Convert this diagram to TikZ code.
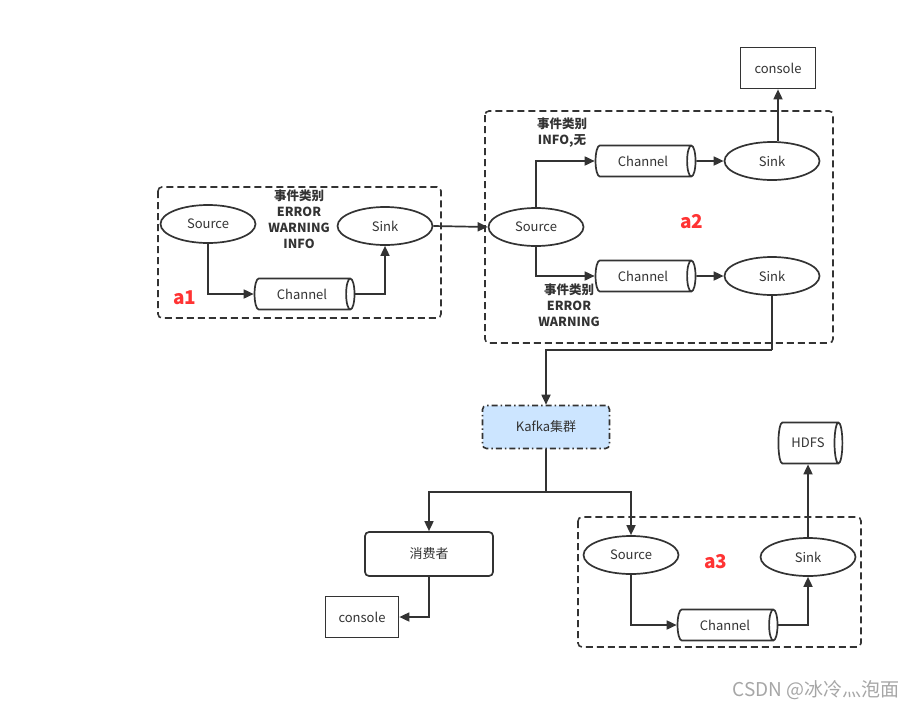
\documentclass[tikz,border=0pt]{standalone}
\usepackage{fontspec}
\setmainfont{Noto Sans CJK SC}
\usepackage{tikz}
\usetikzlibrary{arrows.meta,shapes.geometric,positioning}
\definecolor{ink}{HTML}{333333}
\definecolor{kafkablue}{HTML}{CCE5FF}
\definecolor{tagred}{HTML}{FF3333}

\begin{document}
\begin{tikzpicture}[x=1pt, y=-1pt,
  every node/.style={text=ink, font=\fontsize{13}{15}\selectfont},
  agent/.style={draw=ink, line width=1.6pt, dash pattern=on 7pt off 4pt,
    rounded corners=4pt},
  oval/.style={ellipse, draw=ink, line width=1.7pt, fill=white,
    minimum width=95pt, minimum height=38pt, inner sep=0pt},
  pipe/.style={cylinder, draw=ink, line width=1.7pt, fill=white,
    shape aspect=0.8, minimum width=31pt, minimum height=100pt, inner sep=0pt},
  plain/.style={rectangle, draw=ink, line width=1.7pt, fill=white,
    minimum width=75pt, minimum height=41pt},
  tag/.style={text=tagred, font=\bfseries\fontsize{19}{22}\selectfont},
  note/.style={align=center, font=\bfseries\fontsize{12.5}{16}\selectfont},
  arr/.style={-{Triangle[length=10pt,width=9pt]}, draw=ink, line width=1.7pt},
  wire/.style={draw=ink, line width=1.7pt}
]
\useasboundingbox (0,0) rectangle (922,710);

% agent a1
\draw[agent] (158,187) rectangle (441,318);
\node[oval] (src1) at (208,224) {Source};
\node[oval] (sink1) at (385,226) {Sink};
\node[pipe] (ch1) at (302,294) {Channel};
\node[note] (n1) at (299,219) {事件类别\\ERROR\\WARNING\\INFO};
\node[tag] (a1) at (185,298) {a1};
\draw[arr] (src1.south) |- (ch1.west);
\draw[arr] (ch1.east) -| (sink1.south);

% agent a2
\draw[agent] (485,111) rectangle (833,343);
\node[oval] (src2) at (536,227) {Source};
\node[pipe] (ch2a) at (643,161) {Channel};
\node[pipe] (ch2b) at (643,276) {Channel};
\node[oval] (sink2a) at (772,161) {Sink};
\node[oval] (sink2b) at (772,276) {Sink};
\node[note] (n2a) at (562,133) {事件类别\\INFO,无};
\node[note] (n2b) at (569,305) {事件类别\\ERROR\\WARNING};
\node[tag] (a2) at (692,222) {a2};
\node[plain] (con1) at (778,68) {console};
\draw[arr] (sink1.east) -- (src2.west);
\draw[arr] (src2.north) |- (ch2a.west);
\draw[arr] (src2.south) |- (ch2b.west);
\draw[arr] (ch2a.east) -- (sink2a.west);
\draw[arr] (ch2b.east) -- (sink2b.west);
\draw[arr] (con1.south |- sink2a.north) -- (con1.south);

% kafka
\node[rectangle, draw=ink, fill=kafkablue, line width=1.6pt, rounded corners=4pt,
  dash pattern=on 6pt off 3pt on 1.5pt off 3pt,
  minimum width=127pt, minimum height=43pt] (kafka) at (546,427) {Kafka集群};
\coordinate (j1) at (772,350);
\coordinate (j2) at (546,492);
\draw[wire] (sink2b.south) -- (j1);
\draw[arr] (j1) -| (kafka.north);
\draw[wire] (kafka.south) -- (j2);

% consumer
\node[plain, rounded corners=4pt, minimum width=128pt, minimum height=44pt]
  (cons) at (429,554) {消费者};
\node[plain, minimum width=73pt] (con2) at (362,617) {console};
\draw[arr] (j2) -| (cons.north);
\draw[arr] (cons.south) |- (con2.east);

% agent a3
\draw[agent] (578,517) rectangle (861,647);
\node[oval] (src3) at (631,555) {Source};
\node[oval] (sink3) at (808,557) {Sink};
\node[pipe] (ch3) at (725,625) {Channel};
\node[tag] (a3) at (716,562) {a3};
\node[pipe, minimum height=64pt, minimum width=41pt] (hdfs) at (808,443) {HDFS};
\draw[arr] (j2) -| (src3.north);
\draw[arr] (src3.south) |- (ch3.west);
\draw[arr] (ch3.east) -| (sink3.south);
\draw[arr] (sink3.north) -- (hdfs.south);

\node[text=gray!70, font=\fontsize{19}{22}\selectfont] (wm) at (816,690) {CSDN @冰冷灬泡面};
\end{tikzpicture}
\end{document}
